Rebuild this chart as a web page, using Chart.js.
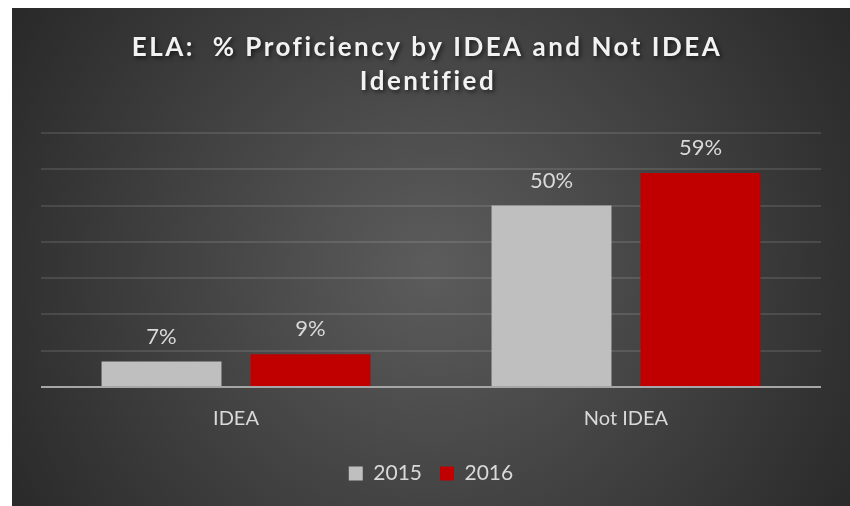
<!DOCTYPE html>
<html>
<head>
<meta charset="utf-8">
<script src="https://cdn.jsdelivr.net/npm/chart.js@4.4.1/dist/chart.umd.min.js"></script>
<style>
  html, body { margin: 0; padding: 0; background: #fff; }
  #wrap { position: absolute; left: 12px; top: 8px; width: 838px; height: 498px; }
</style>
</head>
<body>
<div id="wrap"><canvas id="myChart"></canvas></div>
<script>
var categories = ['IDEA', 'Not IDEA']
var values2015 = [7, 50]
var values2016 = [9, 59]
var seriesNames = ['2015', '2016']
var titleLines = ['ELA:  % Proficiency by IDEA and Not IDEA', 'Identified']

var textColor = '#d9d9d9'

// dark radial background like the Office theme
var bgPlugin = {
    id: 'bg',
    beforeDraw: (chart) => {
        var ctx = chart.ctx
        var w = chart.width, h = chart.height
        var g = ctx.createRadialGradient(420, 260, 0, 420, 260, 520)
        g.addColorStop(0, '#5c5c5c')
        g.addColorStop(1, '#262626')
        ctx.save()
        ctx.fillStyle = g
        ctx.fillRect(0, 0, w, h)
        ctx.restore()
    }
}

// spaced bold title with a soft shadow
var titlePlugin = {
    id: 'spacedTitle',
    afterDraw: (chart) => {
        var ctx = chart.ctx
        ctx.save()
        ctx.font = 'bold 26px Lato'
        ctx.letterSpacing = '2.5px'
        ctx.fillStyle = '#f2f2f2'
        ctx.textAlign = 'center'
        ctx.textBaseline = 'middle'
        ctx.shadowColor = 'rgba(0,0,0,0.6)'
        ctx.shadowBlur = 4
        ctx.shadowOffsetX = 2
        ctx.shadowOffsetY = 2
        ctx.fillText(titleLines[0], 415, 40)
        ctx.fillText(titleLines[1], 416, 74)
        ctx.restore()
    }
}

// value labels above bars
var labelPlugin = {
    id: 'valueLabels',
    afterDatasetsDraw: (chart) => {
        var ctx = chart.ctx
        ctx.save()
        ctx.font = '22px Lato'
        ctx.fillStyle = textColor
        ctx.textAlign = 'center'
        ctx.textBaseline = 'middle'
        chart.data.datasets.forEach((ds, i) => {
            chart.getDatasetMeta(i).data.forEach((bar, j) => {
                ctx.fillText(ds.data[j] + '%', bar.x, bar.y - 25)
            })
        })
        ctx.restore()
    }
}

const ctx = document.getElementById('myChart')
const myChart = new Chart(ctx, {
    type: 'bar',
    data: {
        labels: categories,
        datasets: [{
            label: seriesNames[0],
            data: values2015,
            backgroundColor: '#bfbfbf',
            borderWidth: 0
        }, {
            label: seriesNames[1],
            data: values2016,
            backgroundColor: '#c00000',
            borderWidth: 0
        }]
    },
    options: {
        responsive: true,
        maintainAspectRatio: false,
        animation: false,
        categoryPercentage: 0.764,
        barPercentage: 0.805,
        layout: { padding: { top: 125, left: 29, right: 29, bottom: 12 } },
        plugins: {
            title: { display: false },
            tooltip: { enabled: false },
            legend: {
                position: 'bottom',
                labels: {
                    boxWidth: 14,
                    boxHeight: 14,
                    padding: 18,
                    color: textColor,
                    font: { family: 'Lato', size: 21 }
                }
            }
        },
        scales: {
            x: {
                grid: { display: false, drawTicks: false },
                border: { display: false },
                ticks: {
                    color: textColor,
                    padding: 20,
                    font: { family: 'Lato', size: 20 }
                },
                afterFit: (scale) => { scale.height = 58 }
            },
            y: {
                min: 0,
                max: 70,
                ticks: { display: false, stepSize: 10 },
                border: { display: false },
                grid: {
                    drawTicks: false,
                    color: (c) => c.tick.value === 0 ? '#a6a6a6' : 'rgba(255,255,255,0.11)',
                    lineWidth: 2
                }
            }
        }
    },
    plugins: [bgPlugin, titlePlugin, labelPlugin]
})
</script>
</body>
</html>
